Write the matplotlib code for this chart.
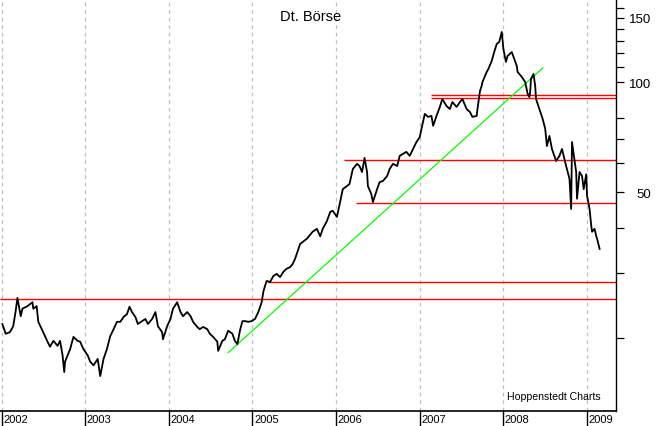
import matplotlib
matplotlib.use('Agg')
import matplotlib.pyplot as plt
import matplotlib.transforms as mtransforms
from matplotlib.ticker import NullFormatter

plt.rcParams['font.family'] = ['Liberation Sans', 'DejaVu Sans']

title = 'Dt. Börse'
source = 'Hoppenstedt Charts'

years = [2002, 2003, 2004, 2005, 2006, 2007, 2008, 2009]

# decimal years / share price (EUR)
dates = [
    2002.01, 2002.05, 2002.10, 2002.14, 2002.17, 2002.19, 2002.23, 2002.25, 2002.31, 2002.37,
    2002.38, 2002.42, 2002.44, 2002.49, 2002.55, 2002.58, 2002.62, 2002.67, 2002.70, 2002.73,
    2002.75, 2002.76, 2002.79, 2002.82, 2002.86, 2002.91, 2002.94, 2002.98, 2003.03, 2003.06,
    2003.10, 2003.15, 2003.18, 2003.22, 2003.26, 2003.30, 2003.34, 2003.38, 2003.42, 2003.46,
    2003.50, 2003.53, 2003.56, 2003.60, 2003.63, 2003.68, 2003.72, 2003.75, 2003.80, 2003.84,
    2003.87, 2003.92, 2003.93, 2003.98, 2004.02, 2004.05, 2004.10, 2004.14, 2004.17, 2004.22,
    2004.26, 2004.29, 2004.34, 2004.37, 2004.41, 2004.46, 2004.49, 2004.53, 2004.58, 2004.59,
    2004.64, 2004.67, 2004.71, 2004.76, 2004.79, 2004.82, 2004.85, 2004.88, 2004.91, 2004.95,
    2004.99, 2005.03, 2005.07, 2005.11, 2005.13, 2005.15, 2005.17, 2005.21, 2005.25, 2005.29,
    2005.33, 2005.37, 2005.41, 2005.45, 2005.48, 2005.51, 2005.57, 2005.65, 2005.72, 2005.77,
    2005.81, 2005.84, 2005.89, 2005.93, 2005.96, 2006.01, 2006.05, 2006.08, 2006.13, 2006.16,
    2006.20, 2006.25, 2006.28, 2006.31, 2006.34, 2006.37, 2006.38, 2006.42, 2006.44, 2006.49,
    2006.52, 2006.56, 2006.61, 2006.64, 2006.68, 2006.73, 2006.76, 2006.80, 2006.84, 2006.88,
    2006.92, 2006.96, 2007.00, 2007.02, 2007.06, 2007.10, 2007.14, 2007.16, 2007.20, 2007.24,
    2007.27, 2007.32, 2007.36, 2007.39, 2007.44, 2007.48, 2007.51, 2007.56, 2007.60, 2007.63,
    2007.68, 2007.69, 2007.72, 2007.74, 2007.75, 2007.78, 2007.80, 2007.82, 2007.86, 2007.89,
    2007.92, 2007.95, 2007.98, 2008.00, 2008.03, 2008.05, 2008.10, 2008.13, 2008.16, 2008.17,
    2008.22, 2008.26, 2008.29, 2008.31, 2008.32, 2008.33, 2008.36, 2008.38, 2008.39, 2008.43,
    2008.47, 2008.50, 2008.52, 2008.55, 2008.58, 2008.63, 2008.67, 2008.70, 2008.75, 2008.79,
    2008.81, 2008.82, 2008.87, 2008.88, 2008.91, 2008.94, 2008.96, 2008.99, 2009.00, 2009.03,
    2009.05, 2009.06, 2009.09, 2009.11, 2009.12, 2009.15]

close = [
    21.8, 20.5, 20.7, 21.5, 23.7, 25.7, 22.9, 24.0, 24.4, 25.0,
    24.0, 24.4, 22.1, 20.9, 19.5, 18.9, 19.6, 19.0, 19.6, 17.9,
    16.1, 17.2, 17.9, 18.6, 20.1, 19.6, 19.5, 18.6, 17.9, 17.2,
    16.8, 17.5, 15.7, 17.5, 18.6, 20.2, 21.1, 22.1, 22.1, 22.8,
    23.2, 24.3, 23.5, 22.8, 21.8, 22.2, 22.5, 21.8, 22.5, 23.5,
    21.5, 20.7, 19.8, 21.5, 22.5, 24.0, 25.0, 23.5, 22.9, 23.5,
    22.9, 22.1, 21.4, 21.1, 21.4, 21.1, 20.5, 20.1, 19.5, 18.4,
    19.6, 19.8, 20.9, 20.5, 19.6, 19.2, 20.9, 22.2, 22.2, 22.1,
    22.2, 22.5, 23.5, 25.0, 26.7, 27.7, 28.6, 28.4, 29.5, 29.9,
    29.3, 30.3, 30.9, 31.2, 31.8, 32.9, 36.1, 37.3, 39.0, 39.7,
    37.9, 39.7, 41.7, 44.2, 44.5, 42.8, 47.3, 51.0, 52.0, 52.7,
    57.9, 59.8, 59.0, 56.8, 62.1, 56.8, 52.0, 49.5, 47.0, 51.0,
    53.3, 53.7, 55.4, 57.9, 59.8, 59.0, 62.9, 63.7, 64.5, 62.9,
    65.7, 68.6, 70.8, 74.5, 81.9, 80.4, 80.9, 76.0, 80.9, 85.6,
    90.0, 86.1, 84.5, 88.3, 85.6, 88.3, 90.0, 84.5, 82.9, 80.4,
    80.9, 84.5, 94.7, 97.7, 100.2, 104.0, 106.7, 108.7, 114.4, 121.0,
    127.3, 128.9, 137.3, 123.4, 113.7, 118.0, 121.0, 115.8, 110.8, 106.7,
    103.4, 100.2, 92.9, 91.1, 94.1, 102.1, 105.4, 97.7, 90.0, 84.5,
    79.3, 74.5, 66.9, 71.3, 65.7, 60.9, 62.9, 65.7, 59.0, 54.4,
    45.0, 68.6, 56.8, 48.0, 56.8, 55.4, 51.0, 56.0, 48.9, 45.0,
    40.5, 39.0, 39.7, 37.9, 37.3, 35.0]

# green trend line (date, price) at both ends
trend_dates = [2004.71, 2008.47]
trend_prices = [18.2, 109.4]

# horizontal support / resistance lines: level and where each starts
level_prices = [92.3, 90.6, 61.3, 46.7, 28.4, 25.5]
level_starts = [2007.14, 2007.14, 2006.10, 2006.24, 2005.19, 2001.98]

y_major = [50, 100, 150]
y_minor = [20, 30, 40, 60, 70, 80, 110, 120, 130, 140, 160]

x_min, x_max = 2001.982, 2009.346
y_min, y_max = 12.6, 169.0

fig = plt.figure(figsize=(6.64, 4.27), dpi=100)
ax = fig.add_axes([0, 15 / 427, 616 / 664, 412 / 427])

ax.set_yscale('log')
ax.set_xlim(x_min, x_max)
ax.set_ylim(y_min, y_max)

# dashed year grid
ax.vlines(years, y_min, y_max, colors='#c0c0c0', linestyles=(0, (3, 3)), lw=0.9, zorder=1)

ax.hlines(level_prices, level_starts, x_max, colors='#ff0000', lw=1.0, zorder=2)
ax.plot(trend_dates, trend_prices, color='#00ff00', lw=0.9, zorder=3)
ax.plot(dates, close, color='black', lw=1.3, zorder=4)

for s in ['left', 'top']:
    ax.spines[s].set_visible(False)
ax.spines['right'].set_linewidth(1.0)
ax.spines['bottom'].set_linewidth(1.2)

ax.yaxis.tick_right()
ax.set_yticks(y_major, labels=[str(v) for v in y_major])
ax.set_yticks(y_minor, minor=True)
ax.yaxis.set_minor_formatter(NullFormatter())
ax.tick_params(axis='y', which='both', direction='out', length=5.5, width=0.9,
               labelsize=9.5, pad=19.5, right=True, left=False,
               labelright=True, labelleft=False)
for t in ax.yaxis.get_major_ticks():
    t.label2.set_horizontalalignment('right')

ax.set_xticks(years, labels=['' for y in years])
ax.tick_params(axis='x', which='both', direction='out', length=11, width=1.0)
ax.xaxis.set_minor_formatter(NullFormatter())

trans = mtransforms.blended_transform_factory(ax.transData, ax.transAxes)
for y in years:
    ax.text(y + 1.5 / 83.65, -0.0194, str(y), transform=trans, ha='left', va='center',
            fontsize=8, clip_on=False)

fig.text(311 / 664, 1 - 17 / 427, title, ha='center', va='center', fontsize=10.5)
fig.text(553.5 / 664, 1 - 397 / 427, source, ha='center', va='center', fontsize=7.6)

fig.savefig('out.png', dpi=100, facecolor='white')
